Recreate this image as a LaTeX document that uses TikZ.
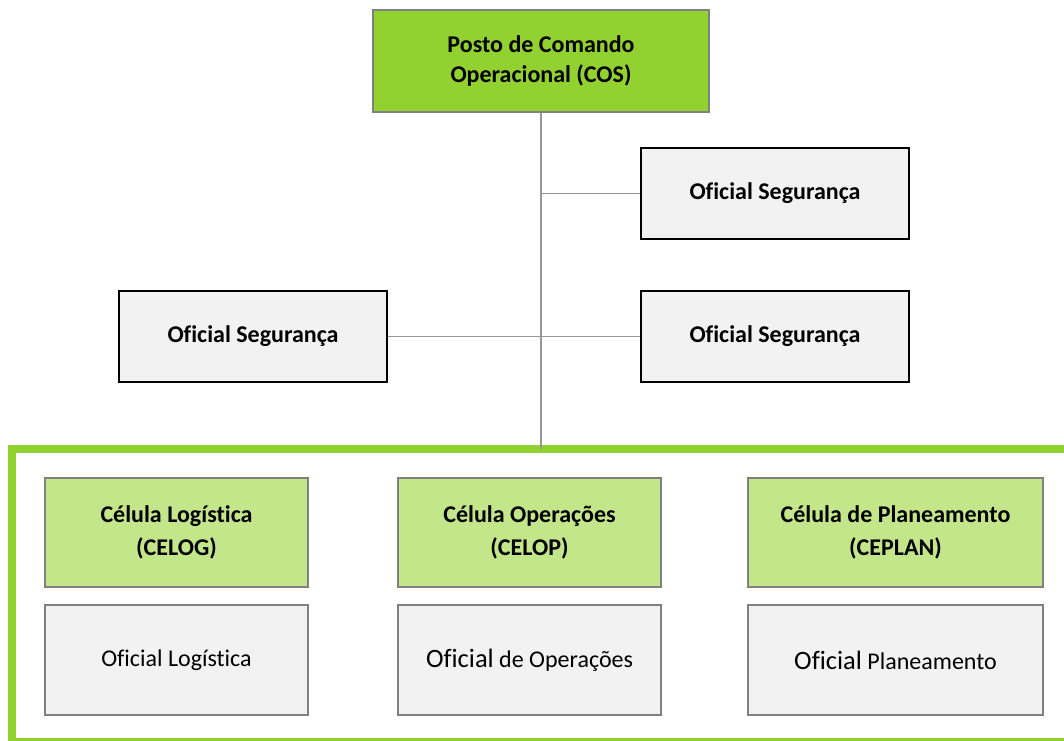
\documentclass[tikz,border=0pt]{standalone}
\usepackage{fontspec}
\setmainfont{Carlito}[Ligatures=NoCommon]
\usetikzlibrary{positioning}

\definecolor{cosgreen}{RGB}{146,210,48}
\definecolor{celgreen}{RGB}{195,230,138}
\definecolor{boxgray}{RGB}{242,242,242}
\definecolor{edgegray}{RGB}{128,128,128}
\definecolor{linkgray}{RGB}{150,150,150}

\newcommand{\bigof}{\fontsize{26.5}{30}\selectfont}

\begin{document}
\begin{tikzpicture}[x=1pt,y=-1pt,
    every node/.style={font=\fontsize{24}{30}\selectfont, align=center, inner sep=0pt},
    cosbox/.style={draw=edgegray, line width=1.5pt, fill=cosgreen, minimum width=336pt, minimum height=102pt, font=\bfseries\fontsize{24}{30}\selectfont},
    segbox/.style={draw=black, line width=1.5pt, fill=boxgray, minimum width=268pt, minimum height=91pt, font=\bfseries\fontsize{24}{30}\selectfont},
    celbox/.style={draw=edgegray, line width=1.5pt, fill=celgreen, minimum width=263pt, minimum height=109pt, font=\bfseries\fontsize{24}{33}\selectfont},
    ofbox/.style={draw=edgegray, line width=1.5pt, fill=boxgray, minimum width=263pt, minimum height=110pt, font=\fontsize{24}{30}\selectfont},
    link/.style={draw=linkgray, line width=1.5pt}]
    \useasboundingbox (0,0) rectangle (1064,740);

    % outer frame of the cells, cut at the page edge
    \begin{scope}
        \clip (0,0) rectangle (1064,740);
        \draw[cosgreen, line width=8pt] (12,449) rectangle (1090,742);
    \end{scope}
    \coordinate (fr) at (541,449);

    \node[cosbox] (cos) at (541,61) {Posto de Comando\\Operacional (COS)};
    \node[segbox] (segA) at (775,193.5) {Oficial Segurança};
    \node[segbox] (segB) at (253,336.5) {Oficial Segurança};
    \node[segbox] (segC) at (775,336.5) {Oficial Segurança};

    \node[celbox] (celog) at (176.5,532.5) {Célula Logística\\(CELOG)};
    \node[celbox] (celop) at (529.5,532.5) {Célula Operações\\(CELOP)};
    \node[celbox, minimum width=295pt] (ceplan) at (895.5,532.5) {Célula de Planeamento\\(CEPLAN)};

    \node[ofbox] (oflog) at (176.5,660) {Oficial Logística};
    \node[ofbox] (ofop) at (529.5,660) {{\bigof Oficial} de Operações};
    \node[ofbox, minimum width=295pt] (ofplan) at (895.5,660) {{\bigof Oficial} Planeamento};

    \draw[link] (cos) -- (fr);
    \draw[link] (segA.west) -- (segA.west -| cos.south);
    \draw[link] (segB) -- (segC);
\end{tikzpicture}
\end{document}
